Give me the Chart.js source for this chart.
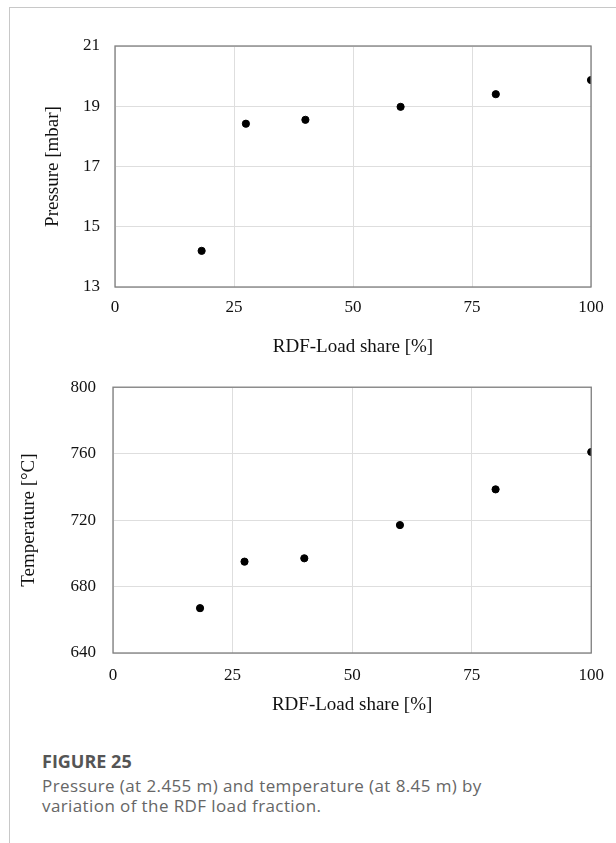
<!DOCTYPE html>
<html>
<head>
<meta charset="utf-8">
<script src="https://cdn.jsdelivr.net/npm/chart.js@4"></script>
<style>
  body { margin: 0; background: #fff; width: 616px; height: 843px; position: relative; overflow: hidden; }
  .frame { position: absolute; left: 9px; top: 7px; right: -2px; bottom: -2px;
           border-left: 1px solid #c8c8c8; border-top: 1px solid #c8c8c8; }
  canvas { position: absolute; left: 0; }
  #pressureChart { top: 0; }
  #tempChart { top: 360px; }
  .caption { position: absolute; left: 42px; top: 750px; font-family: "Open Sans", sans-serif; color: #666; }
  .caption h4 { margin: 0; font-size: 18px; font-weight: 700; color: #555; line-height: 22px; }
  .caption p { margin: 4px 0 0; font-size: 17px; line-height: 20px; letter-spacing: 0.4px; }
</style>
</head>
<body>
<div class="frame"></div>
<canvas id="pressureChart" width="616" height="360"></canvas>
<canvas id="tempChart" width="616" height="370"></canvas>
<div class="caption">
  <h4>FIGURE 25</h4>
  <p>Pressure (at 2.455 m) and temperature (at 8.45 m) by<br>variation of the RDF load fraction.</p>
</div>

<script>
// RDF load share [%] and measured values
const loadShare   = [18.2, 27.5, 40, 60, 80, 100];
const pressure    = [14.2, 18.42, 18.55, 18.98, 19.4, 19.87];
const temperature = [667, 695, 697, 717, 738.5, 761];

const xTitle = "RDF-Load share [%]";
const serif = "'Liberation Serif', 'Times New Roman', serif";

// frame around the plot area
const boxPlugin = {
  id: "plotBox",
  afterDraw(chart) {
    const { ctx, chartArea: a } = chart;
    ctx.save();
    ctx.strokeStyle = "#7f7f7f";
    ctx.lineWidth = 1.3;
    ctx.strokeRect(a.left, a.top, a.right - a.left, a.bottom - a.top);
    ctx.restore();
  }
};

function renderChart(id, values, y, lay) {
  const ctx = document.getElementById(id).getContext("2d");

  new Chart(ctx, {
    type: "scatter",
    data: {
      datasets: [{
        data: loadShare.map((x, i) => ({ x, y: values[i] })),
        backgroundColor: "#000",
        borderColor: "#000",
        pointRadius: 3.6,
        pointHoverRadius: 3.6
      }]
    },
    options: {
      responsive: false,
      animation: false,
      devicePixelRatio: 1,
      layout: { padding: lay.padding },
      scales: {
        x: {
          min: 0, max: 100,
          ticks: { stepSize: 25, padding: lay.xTickPad, color: "#111", font: { family: serif, size: 17 } },
          grid: { color: "#dedede", drawTicks: false },
          border: { display: false },
          title: { display: true, text: xTitle, color: "#111", padding: { top: 0, bottom: lay.xTitlePad },
                   font: { family: serif, size: 19 } },
          afterFit: s => { s.height = lay.xHeight; }
        },
        y: {
          min: y.min, max: y.max,
          ticks: { stepSize: y.step, padding: lay.yTickPad, color: "#111", font: { family: serif, size: 17 } },
          grid: { color: "#dedede", drawTicks: false },
          border: { display: false },
          title: { display: true, text: y.title, color: "#111", padding: 0,
                   font: { family: serif, size: 19 } },
          afterFit: s => { s.width = lay.yWidth; }
        }
      },
      plugins: { legend: { display: false }, tooltip: { enabled: false } }
    },
    plugins: [boxPlugin]
  });
}

renderChart("pressureChart", pressure,
  { min: 13, max: 21, step: 2, title: "Pressure [mbar]" },
  { padding: { left: 42, top: 46, right: 25, bottom: 0 },
    yWidth: 73, xHeight: 73, xTickPad: 10, yTickPad: 15, xTitlePad: 2 });

renderChart("tempChart", temperature,
  { min: 640, max: 800, step: 40, title: "Temperature [°C]" },
  { padding: { left: 18, top: 16, right: 20, bottom: 0 },
    yWidth: 95, xHeight: 77, xTickPad: 12, yTickPad: 17, xTitlePad: 14 });
</script>
</body>
</html>
